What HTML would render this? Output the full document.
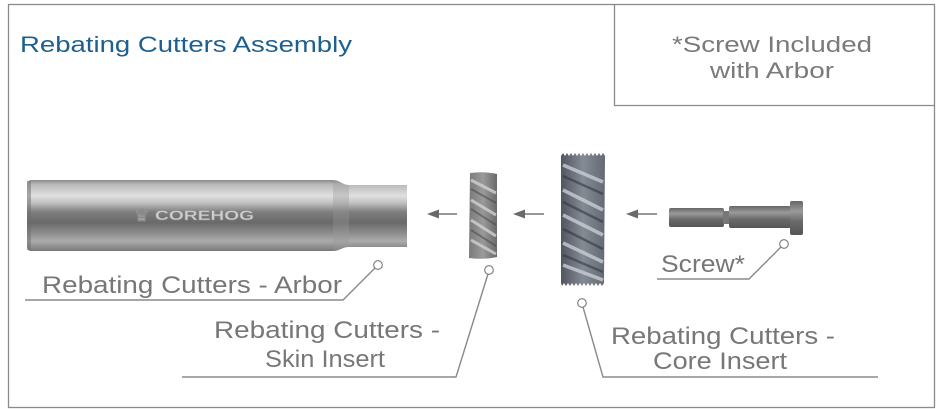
<!DOCTYPE html>
<html><head><meta charset="utf-8">
<style>
html,body{margin:0;padding:0;background:#fff;}
svg{display:block;}
text{font-family:"Liberation Sans",sans-serif;}
</style></head>
<body>
<svg width="937" height="409" viewBox="0 0 937 409" xmlns="http://www.w3.org/2000/svg">
<defs>
<linearGradient id="arb" x1="0" y1="0" x2="0" y2="1">
<stop offset="0" stop-color="#8a8a8a"/>
<stop offset="0.06" stop-color="#b8b8b8"/>
<stop offset="0.22" stop-color="#e0e0e0"/>
<stop offset="0.32" stop-color="#c2c2c2"/>
<stop offset="0.45" stop-color="#7e7e7e"/>
<stop offset="0.6" stop-color="#696969"/>
<stop offset="0.75" stop-color="#8e8e8e"/>
<stop offset="0.86" stop-color="#ababab"/>
<stop offset="0.95" stop-color="#8c8c8c"/>
<stop offset="1" stop-color="#787878"/>
</linearGradient>
<linearGradient id="scr" x1="0" y1="0" x2="0" y2="1">
<stop offset="0" stop-color="#666"/>
<stop offset="0.3" stop-color="#9a9a9a"/>
<stop offset="0.6" stop-color="#6a6a6a"/>
<stop offset="1" stop-color="#555"/>
</linearGradient>
<linearGradient id="skin" x1="0" y1="0" x2="1" y2="0">
<stop offset="0" stop-color="#7a7a7a"/>
<stop offset="0.5" stop-color="#9a9a9a"/>
<stop offset="1" stop-color="#6a6a6a"/>
</linearGradient>
<linearGradient id="core" x1="0" y1="0" x2="1" y2="0">
<stop offset="0" stop-color="#50555e"/>
<stop offset="0.5" stop-color="#858b95"/>
<stop offset="1" stop-color="#646a74"/>
</linearGradient>
</defs>

<!-- frames -->
<rect x="8.5" y="4.5" width="926" height="403" fill="none" stroke="#8a8a8a" stroke-width="1.3"/>
<polyline points="614.5,4.5 614.5,105.5 934.5,105.5" fill="none" stroke="#8a8a8a" stroke-width="1.3"/>

<text x="20" y="52" font-size="22" fill="#1d5f8e" textLength="332" lengthAdjust="spacingAndGlyphs">Rebating Cutters Assembly</text>
<text x="772" y="52" font-size="22" fill="#7a7a7a" text-anchor="middle" textLength="200" lengthAdjust="spacingAndGlyphs">*Screw Included</text>
<text x="772" y="78" font-size="22" fill="#7a7a7a" text-anchor="middle" textLength="124" lengthAdjust="spacingAndGlyphs">with Arbor</text>

<!-- arbor -->
<path d="M31,180 L333,180 C340,180 342,185 349,185 L407,185 L407,247 L349,247 C342,247 340,251 333,251 L31,251 Q27,251 27,246 L27,185 Q27,180 31,180 Z" fill="url(#arb)"/>
<rect x="27" y="181" width="4" height="69" fill="#6e6e6e" opacity="0.5"/>
<path d="M333,180 C340,180 342,185 349,185 L349,247 C342,247 340,251 333,251 Z" fill="#999" opacity="0.35"/>
<text x="134" y="221" font-size="17" fill="#c9c9c9" stroke="#8a8a8a" stroke-width="0.4" font-weight="bold">♛</text>
<text x="155" y="220" font-size="14" font-weight="bold" fill="#cfcfcf" stroke="#8d8d8d" stroke-width="0.4" textLength="99" lengthAdjust="spacingAndGlyphs">COREHOG</text>

<!-- arrows -->
<g stroke="#777" stroke-width="1.5">
<line x1="438" y1="214" x2="457" y2="214"/>
<line x1="524" y1="214" x2="544" y2="214"/>
<line x1="637" y1="214" x2="657" y2="214"/>
</g>
<g fill="#6a6a6a">
<polygon points="427,214 439,209.5 439,218.5"/>
<polygon points="513,214 525,209.5 525,218.5"/>
<polygon points="626,214 638,209.5 638,218.5"/>
</g>

<!-- skin insert -->
<path d="M470,173 Q484,171 497,174 L497,257 Q484,260 469,258 Z" fill="url(#skin)"/>
<g stroke="#d2d2d2" stroke-width="3" opacity="0.8" fill="none">
<path d="M471,180 L496,193"/>
<path d="M471,200 L496,215"/>
<path d="M471,220 L496,236"/>
<path d="M471,240 L496,254"/>
</g>
<g stroke="#444" stroke-width="2" opacity="0.5" fill="none">
<path d="M471,189 L496,203"/>
<path d="M471,209 L496,225"/>
<path d="M471,230 L496,246"/>
</g>

<!-- core insert -->
<path d="M561,156 l2,-3 l2,3 l2,-3 l2,3 l2,-3 l2,3 l2,-3 l2,3 l2,-3 l2,3 l2,-3 l2,3 l2,-3 l2,3 l2,-3 l2,3 l2,-3 l2,3 l2,-3 l2,3 l2,-3 l2,3 L604,283 l-2,3 l-2,-3 l-2,3 l-2,-3 l-2,3 l-2,-3 l-2,3 l-2,-3 l-2,3 l-2,-3 l-2,3 l-2,-3 l-2,3 l-2,-3 l-2,3 l-2,-3 l-2,3 l-2,-3 l-2,3 l-2,-3 l-2,3 L561,283 Z" fill="url(#core)"/>
<g stroke="#d0d3d8" stroke-width="3.5" opacity="0.75" fill="none">
<path d="M563,165 L603,182"/>
<path d="M563,190 L603,210"/>
<path d="M563,215 L603,235"/>
<path d="M563,243 L603,262"/>
<path d="M563,265 L603,280"/>
</g>
<g stroke="#2e3238" stroke-width="2.5" opacity="0.55" fill="none">
<path d="M563,176 L603,194"/>
<path d="M563,202 L603,222"/>
<path d="M563,229 L603,249"/>
<path d="M563,255 L603,272"/>
</g>

<!-- screw -->
<rect x="669" y="208" width="55" height="19" rx="2" fill="url(#scr)"/>
<rect x="723" y="211" width="7" height="13" fill="#777"/>
<rect x="729" y="206" width="62" height="22" rx="2" fill="url(#scr)"/>
<rect x="790" y="201" width="13" height="34" rx="2" fill="url(#scr)"/>

<!-- leader lines -->
<g stroke="#8a8a8a" fill="none">
<polyline points="25,300 343,300 375,268" stroke-width="1.4"/>
<polyline points="182,377 456,377 488,274" stroke-width="1.4"/>
<polyline points="583,307 603,377 878,377" stroke-width="1.4"/>
<polyline points="657,279 749,279 781,247" stroke-width="1.4"/>
</g>
<g fill="#fff" stroke="#777" stroke-width="1.1">
<circle cx="378" cy="265" r="4.3"/>
<circle cx="489" cy="270" r="4.3"/>
<circle cx="582" cy="303" r="4.3"/>
<circle cx="784" cy="244" r="4.3"/>
</g>

<!-- labels -->
<g fill="#777" font-size="24">
<text x="42" y="293" textLength="300" lengthAdjust="spacingAndGlyphs">Rebating Cutters - Arbor</text>
<text x="214" y="338" textLength="226" lengthAdjust="spacingAndGlyphs">Rebating Cutters -</text>
<text x="265" y="367" textLength="120" lengthAdjust="spacingAndGlyphs">Skin Insert</text>
<text x="611" y="344" textLength="224" lengthAdjust="spacingAndGlyphs">Rebating Cutters -</text>
<text x="653" y="369" textLength="134" lengthAdjust="spacingAndGlyphs">Core Insert</text>
<text x="661" y="272" textLength="84" lengthAdjust="spacingAndGlyphs">Screw*</text>
</g>
</svg>
</body></html>
